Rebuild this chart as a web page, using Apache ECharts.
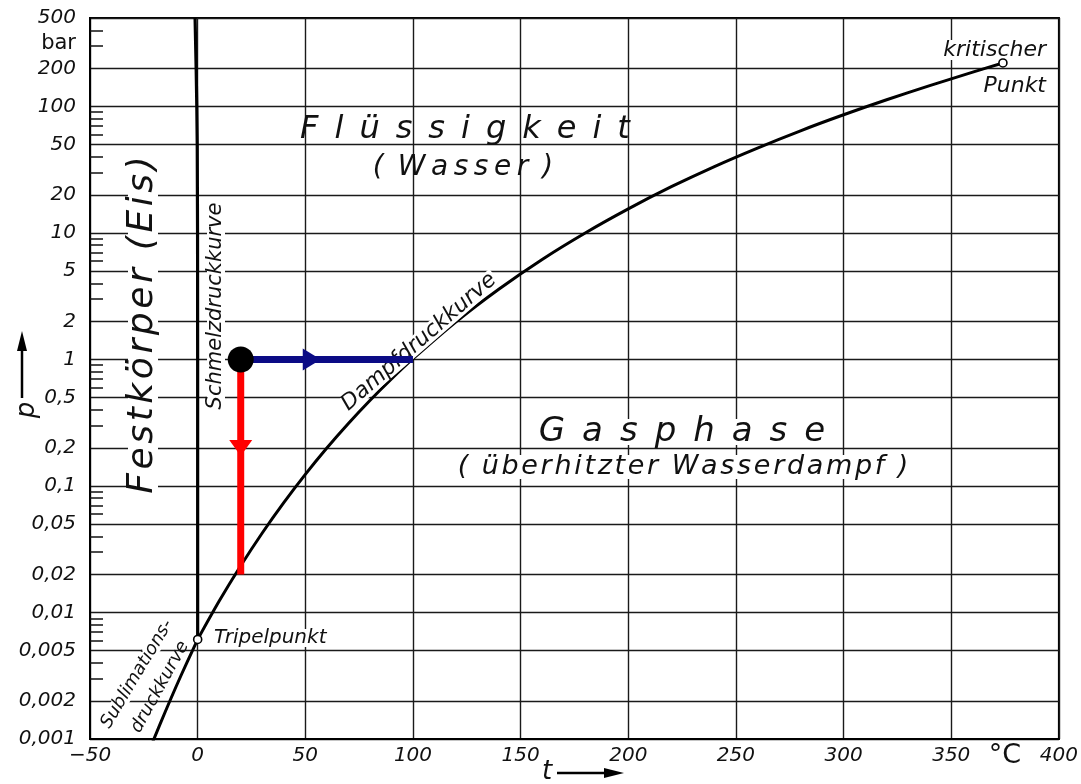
<!DOCTYPE html>
<html><head><meta charset="utf-8">
<script src="https://cdn.jsdelivr.net/npm/echarts@6/dist/echarts.min.js"></script>
<style>html,body{margin:0;padding:0;background:#fff}#c{width:1081px;height:784px}</style>
</head><body><div id="c"></div>
<script>
// ---------- data ----------
const xTickLabels = ['\u221250','0','50','100','150','200','250','300','350','400'];
const yTickValues = [0.001,0.002,0.005,0.01,0.02,0.05,0.1,0.2,0.5,1,2,5,10,20,50,100,200,500];
const yTickLabels = ['0,001','0,002','0,005','0,01','0,02','0,05','0,1','0,2','0,5','1','2','5','10','20','50','100','200','500'];
const yMinorTicks = [0.003,0.004,0.006,0.007,0.008,0.009,0.03,0.04,0.06,0.07,0.08,0.09,
                     0.3,0.4,0.6,0.7,0.8,0.9,3,4,6,7,8,9,30,40,60,70,80,90,300,400];

// Dampfdruckkurve (vapour pressure curve), t in °C, p in bar
const vaporT = [0.01,10,20,30,40,50,60,70,80,90,100,120,140,160,180,200,220,240,260,280,300,320,340,360,374];
const vaporP = [0.00612,0.0123,0.0234,0.0425,0.0738,0.1235,0.1995,0.312,0.474,0.701,1.013,1.985,3.61,6.18,10.0,15.5,23.2,33.5,46.9,64.2,85.9,112.9,146.0,186.5,220.6];
// Sublimationsdruckkurve
const sublT = [-22,-20,-15,-10,-5,0.01];
const sublP = [0.00085,0.00103,0.00165,0.0026,0.00402,0.00612];
// Schmelzdruckkurve
const meltT = [0.01,0.0,-0.05,-0.2,-0.4,-0.7,-1.2];
const meltP = [0.00612,1,10,50,100,200,500];

const triplePoint = [0.01, 0.00612];
const criticalPoint = [374, 220.6];
const startPoint = [20, 1];
const heatPathT = [20, 100];
const heatPathP = [1, 1];
const evacPathT = [20, 20];
const evacPathP = [1, 0.02];
const heatArrow = [53, 1];
const evacArrow = [20, 0.2];

// ---------- helpers ----------
const L = v => Math.log10(v);
const pts = (ts, ps) => ts.map((t, i) => [t, L(ps[i])]);
const FF = '"DejaVu Sans", sans-serif';
const spaced = (s, sep) => Array.from(s).join(sep);

const yMajorLog = yTickValues.map(L);
const yMinorLog = yMinorTicks.map(L);
const yMin = L(yTickValues[0]), yMax = L(yTickValues[yTickValues.length - 1]);

function text(x, y, str, font, opts) {
  opts = opts || {};
  return {
    type: 'text', x: x, y: y, rotation: opts.rot || 0, z: 5, silent: true,
    style: Object.assign({
      text: str, font: font, fill: '#111',
      align: opts.align || 'center', verticalAlign: 'middle'
    }, opts.bg ? {backgroundColor: '#fff', padding: opts.pad || [0, 2], lineHeight: opts.lh} : {})
  };
}
const deg = d => d * Math.PI / 180;

const chart = echarts.init(document.getElementById('c'), null, {renderer: 'canvas'});
chart.setOption({
  animation: false,
  backgroundColor: '#fff',
  grid: {left: 90, right: 19, top: 18, bottom: 45, show: true, borderColor: '#000', borderWidth: 2, backgroundColor: 'transparent'},
  xAxis: {
    type: 'value', min: -50, max: 400, interval: 50,
    axisLine: {show: true, onZero: false, lineStyle: {color: '#000', width: 2}},
    axisTick: {show: false},
    splitLine: {show: true, lineStyle: {color: '#1a1a1a', width: 1.4}},
    axisLabel: {
      color: '#111', fontSize: 20, fontStyle: 'italic', fontFamily: FF, margin: 7,
      formatter: v => xTickLabels[Math.round((v + 50) / 50)]
    }
  },
  yAxis: [{
    type: 'value', min: yMin, max: yMax,
    axisLine: {show: true, onZero: false, lineStyle: {color: '#000', width: 2}},
    axisTick: {show: true, length: 0, customValues: yMajorLog},
    splitLine: {show: true, lineStyle: {color: '#1a1a1a', width: 1.4}},
    axisLabel: {
      customValues: yMajorLog,
      color: '#111', fontSize: 20, fontStyle: 'italic', fontFamily: FF, margin: 14,
      formatter: v => {
        let best = 0;
        yMajorLog.forEach((lv, i) => { if (Math.abs(lv - v) < Math.abs(yMajorLog[best] - v)) best = i; });
        return yTickLabels[best];
      }
    }
  }, {
    type: 'value', min: yMin, max: yMax, position: 'left',
    axisLine: {show: false, onZero: false},
    axisLabel: {show: false},
    splitLine: {show: false},
    axisTick: {show: true, inside: true, length: 13, customValues: yMinorLog, lineStyle: {color: '#111', width: 1.5}}
  }],
  series: [
    {type: 'line', name: 'Dampfdruckkurve', data: pts(vaporT, vaporP), smooth: 0.3, showSymbol: false,
     lineStyle: {color: '#000', width: 3}, z: 3},
    {type: 'line', name: 'Sublimationsdruckkurve', data: pts(sublT, sublP), smooth: 0.3, showSymbol: false,
     lineStyle: {color: '#000', width: 3}, z: 3},
    {type: 'line', name: 'Schmelzdruckkurve', data: pts(meltT, meltP), smooth: false, showSymbol: false,
     lineStyle: {color: '#000', width: 3.2}, z: 3},
    {type: 'line', name: 'Erwärmen', data: pts(heatPathT, heatPathP), showSymbol: false,
     lineStyle: {color: '#0b0b85', width: 7, opacity: 1}, z: 6},
    {type: 'line', name: 'Evakuieren', data: pts(evacPathT, evacPathP), showSymbol: false,
     lineStyle: {color: '#ff0000', width: 7, opacity: 1}, z: 6},
    {type: 'scatter', data: [[heatArrow[0], L(heatArrow[1])]], symbol: 'triangle', symbolSize: [22, 18], symbolRotate: -90,
     itemStyle: {color: '#0b0b85', opacity: 1}, z: 7, silent: true},
    {type: 'scatter', data: [[evacArrow[0], L(evacArrow[1])]], symbol: 'triangle', symbolSize: [23, 16], symbolRotate: 180,
     itemStyle: {color: '#ff0000', opacity: 1}, z: 7, silent: true},
    {type: 'scatter', data: [[startPoint[0], L(startPoint[1])]], symbol: 'circle', symbolSize: 26,
     itemStyle: {color: '#000', opacity: 1}, z: 8, silent: true},
    {type: 'scatter', data: [[triplePoint[0], L(triplePoint[1])], [criticalPoint[0], L(criticalPoint[1])]],
     symbol: 'circle', symbolSize: 8, itemStyle: {color: '#fff', borderColor: '#000', borderWidth: 1.6, opacity: 1}, z: 8, silent: true}
  ],
  graphic: {elements: [
    text(143, 325, spaced('Festkörper', '\u200A') + '\u2002' + spaced('(Eis)', '\u200A'), 'italic 36px ' + FF,
         {rot: deg(90), bg: true, lh: 30, pad: [0, 4]}),
    text(216, 306, 'Schmelzdruckkurve', 'italic 21px ' + FF, {rot: deg(90), bg: true, lh: 18}),
    text(419, 342, 'Dampfdruckkurve', 'italic 22px ' + FF, {rot: deg(41), bg: true, lh: 18}),
    text(137, 674, 'Sublimations-', 'italic 18px ' + FF, {rot: deg(59), bg: true, lh: 16}),
    text(160, 687, 'druckkurve', 'italic 18px ' + FF, {rot: deg(61)}),
    text(212, 638, 'Tripelpunkt', 'italic 20px ' + FF, {align: 'left', bg: true, lh: 18}),
    text(1048, 50, 'kritischer', 'italic 22px ' + FF, {align: 'right', bg: true, lh: 20}),
    text(1048, 86, 'Punkt', 'italic 22px ' + FF, {align: 'right', bg: true, lh: 20}),
    text(465, 130, spaced('Flüssigkeit', '\u2002'), 'italic 32px ' + FF),
    text(463, 168, '(\u2002' + spaced('Wasser', '\u2009') + '\u2002)', 'italic 28px ' + FF),
    text(682, 432, spaced('Gasphase', '\u2002'), 'italic 34px ' + FF, {bg: true, lh: 26}),
    text(683, 467, '(\u2002' + spaced('überhitzter', '\u200A') + '\u2002' + spaced('Wasserdampf', '\u200A') + '\u2002)',
         'italic 27px ' + FF, {bg: true, lh: 24}),
    text(76, 44, 'bar', '21px ' + FF, {align: 'right'}),
    text(1005, 756, '°C', '27px ' + FF),
    text(27, 410, 'p', 'italic 26px ' + FF, {rot: deg(90)}),
    {type: 'line', shape: {x1: 22, y1: 398, x2: 22, y2: 348}, style: {stroke: '#000', lineWidth: 2.5}, z: 5, silent: true},
    {type: 'polygon', shape: {points: [[22, 331], [17, 351], [27, 351]]}, style: {fill: '#000'}, z: 5, silent: true},
    text(547, 772, 't', 'italic 26px ' + FF),
    {type: 'line', shape: {x1: 557, y1: 773, x2: 606, y2: 773}, style: {stroke: '#000', lineWidth: 2.5}, z: 5, silent: true},
    {type: 'polygon', shape: {points: [[624, 773], [604, 768], [604, 778]]}, style: {fill: '#000'}, z: 5, silent: true}
  ]}
});
</script>
</body></html>
